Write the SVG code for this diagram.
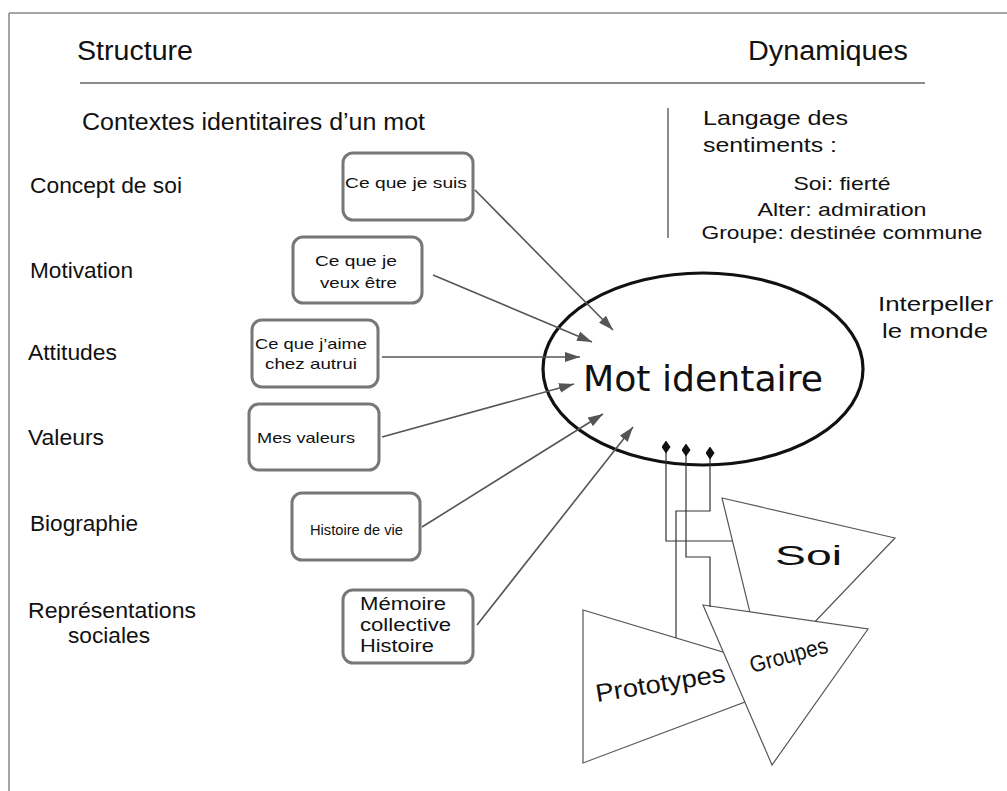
<svg xmlns="http://www.w3.org/2000/svg" width="1007" height="791" viewBox="0 0 1007 791">
<style>
text{font-family:"Liberation Sans",Arial,sans-serif;fill:#111}
.hd{font-size:27px}
.lb{font-size:22px}
.bx{font-size:15px}
.box{fill:#fff;stroke:#777;stroke-width:3}
.tri{fill:#fff;stroke:#555;stroke-width:1.2}
.arr{fill:none;stroke:#555;stroke-width:1.6;marker-end:url(#ah)}
.lnk{fill:none;stroke:#333;stroke-width:1.2;marker-start:url(#dm)}
.rule{stroke:#666;stroke-width:1.5}
</style>
<defs>
<marker id="ah" markerUnits="userSpaceOnUse" markerWidth="15" markerHeight="10" refX="15" refY="5" orient="auto">
<path d="M0,0 L15,5 L0,10 z" fill="#555"/>
</marker>
<marker id="dm" markerUnits="userSpaceOnUse" markerWidth="9" markerHeight="13" refX="4.5" refY="6.5" orient="0">
<path d="M4.5,0 L9,6.5 L4.5,13 L0,6.5 z" fill="#111"/>
</marker>
</defs>
<rect width="1007" height="791" fill="#fff"/>
<g id="frame">
<line x1="9" y1="13" x2="1007" y2="13" stroke="#888" stroke-width="1.5"/>
<line x1="9" y1="13" x2="9" y2="791" stroke="#888" stroke-width="1.5"/>
<line class="rule" x1="80" y1="83" x2="925" y2="83"/>
<line class="rule" x1="668" y1="108" x2="668" y2="238"/>
</g>
<g id="headings">
<text class="hd" x="77" y="60" textLength="116" lengthAdjust="spacingAndGlyphs">Structure</text>
<text class="hd" x="748" y="60" textLength="160" lengthAdjust="spacingAndGlyphs">Dynamiques</text>
<text style="font-size:23px" x="82" y="130" textLength="343" lengthAdjust="spacingAndGlyphs">Contextes identitaires d’un mot</text>
</g>
<g id="sentiments">
<text style="font-size:21px" x="703" y="125" textLength="145" lengthAdjust="spacingAndGlyphs">Langage des</text>
<text style="font-size:21px" x="703" y="152" textLength="134" lengthAdjust="spacingAndGlyphs">sentiments :</text>
<text style="font-size:19px" x="842" y="190" text-anchor="middle" textLength="97" lengthAdjust="spacingAndGlyphs">Soi: fierté</text>
<text style="font-size:19px" x="842" y="216" text-anchor="middle" textLength="169" lengthAdjust="spacingAndGlyphs">Alter: admiration</text>
<text style="font-size:19px" x="842" y="239" text-anchor="middle" textLength="281" lengthAdjust="spacingAndGlyphs">Groupe: destinée commune</text>
</g>
<g id="interpeller">
<text style="font-size:21px" x="878" y="311" textLength="115" lengthAdjust="spacingAndGlyphs">Interpeller</text>
<text style="font-size:21px" x="882" y="338" textLength="106" lengthAdjust="spacingAndGlyphs">le monde</text>
</g>
<g id="labels">
<text class="lb" x="30" y="193" textLength="152" lengthAdjust="spacingAndGlyphs">Concept de soi</text>
<text class="lb" x="30" y="278" textLength="103" lengthAdjust="spacingAndGlyphs">Motivation</text>
<text class="lb" x="28" y="360" textLength="89" lengthAdjust="spacingAndGlyphs">Attitudes</text>
<text class="lb" x="28" y="445" textLength="76" lengthAdjust="spacingAndGlyphs">Valeurs</text>
<text class="lb" x="30" y="531" textLength="108" lengthAdjust="spacingAndGlyphs">Biographie</text>
<text class="lb" x="28" y="618" textLength="168" lengthAdjust="spacingAndGlyphs">Représentations</text>
<text class="lb" x="68" y="643" textLength="82" lengthAdjust="spacingAndGlyphs">sociales</text>
</g>
<g id="box-suis">
<rect class="box" x="343" y="153" width="130" height="67" rx="10"/>
<text class="bx" x="345" y="188" textLength="122" lengthAdjust="spacingAndGlyphs">Ce que je suis</text>
</g>
<g id="box-veux">
<rect class="box" x="293" y="237" width="129" height="66" rx="10"/>
<text class="bx" x="315" y="266" textLength="82" lengthAdjust="spacingAndGlyphs">Ce que je</text>
<text class="bx" x="320" y="288" textLength="77" lengthAdjust="spacingAndGlyphs">veux être</text>
</g>
<g id="box-aime">
<rect class="box" x="252" y="320" width="126" height="67" rx="10"/>
<text class="bx" x="255" y="349" textLength="112" lengthAdjust="spacingAndGlyphs">Ce que j’aime</text>
<text class="bx" x="265" y="369" textLength="92" lengthAdjust="spacingAndGlyphs">chez autrui</text>
</g>
<g id="box-valeurs">
<rect class="box" x="249" y="404" width="130" height="66" rx="10"/>
<text class="bx" x="257" y="443" textLength="98" lengthAdjust="spacingAndGlyphs">Mes valeurs</text>
</g>
<g id="box-histoire">
<rect class="box" x="292" y="493" width="128" height="67" rx="10"/>
<text class="bx" x="310" y="535" textLength="93" lengthAdjust="spacingAndGlyphs">Histoire de vie</text>
</g>
<g id="box-memoire">
<rect class="box" x="343" y="590" width="130" height="73" rx="10"/>
<text style="font-size:18px" x="360" y="610" textLength="86" lengthAdjust="spacingAndGlyphs">Mémoire</text>
<text style="font-size:18px" x="360" y="631" textLength="91" lengthAdjust="spacingAndGlyphs">collective</text>
<text style="font-size:18px" x="360" y="652" textLength="74" lengthAdjust="spacingAndGlyphs">Histoire</text>
</g>
<g id="mot-identaire">
<ellipse cx="703" cy="369" rx="160" ry="96" fill="#fff" stroke="#111" stroke-width="3.2"/>
<text x="583" y="391" style="font-family:'DejaVu Sans',sans-serif;font-size:36px" textLength="240" lengthAdjust="spacingAndGlyphs">Mot identaire</text>
</g>
<g id="soi">
<polygon class="tri" points="722,498 895,538 765,674"/>
<text x="775" y="565" style="font-size:28px" textLength="67" lengthAdjust="spacingAndGlyphs">Soi</text>
</g>
<g id="prototypes">
<polygon class="tri" points="583,610 583,763 809,678"/>
<text x="597" y="702" style="font-size:25px" transform="rotate(-9 597 702)" textLength="131" lengthAdjust="spacingAndGlyphs">Prototypes</text>
</g>
<g id="groupes">
<polygon class="tri" points="703,605 868,629 772,765"/>
<text x="752" y="673" style="font-size:23px" transform="rotate(-15 752 673)" textLength="80" lengthAdjust="spacingAndGlyphs">Groupes</text>
</g>
<g id="connectors">
<line class="arr" x1="475" y1="190" x2="613" y2="330"/>
<line class="arr" x1="433" y1="275" x2="592" y2="342"/>
<line class="arr" x1="382" y1="357" x2="580" y2="357"/>
<line class="arr" x1="382" y1="437" x2="574" y2="384"/>
<line class="arr" x1="422" y1="527" x2="603" y2="414"/>
<line class="arr" x1="477" y1="625" x2="633" y2="427"/>
<polyline class="lnk" points="666,447 666,541 732,541"/>
<polyline class="lnk" points="686,450 686,557 710,557 710,607"/>
<polyline class="lnk" points="710,453 710,511 676,511 676,638"/>
</g>
</svg>
